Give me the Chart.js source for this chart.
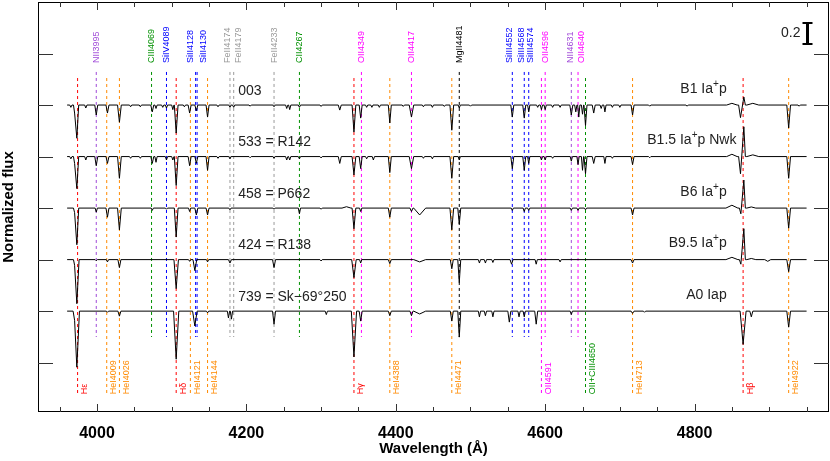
<!DOCTYPE html>
<html>
<head>
<meta charset="utf-8">
<title>LMC supergiant spectra</title>
<script src="https://cdn.jsdelivr.net/npm/chart.js@4.4.1/dist/chart.umd.min.js"></script>
<style>
  html, body { margin: 0; padding: 0; background: #fff; }
  #wrap { width: 830px; height: 461px; }
</style>
</head>
<body>
<div id="wrap"><canvas id="spectra"></canvas></div>
<script>
// ---- data ---------------------------------------------------------------
// star identifiers (left) and spectral types (right), top to bottom
var starNames = ["003", "533 = R142", "458 = P662", "424 = R138", "739 = Sk\u221269\u00b0250"];
var spTypes = ["B1 Ia\u207Ap", "B1.5 Ia\u207Ap Nwk", "B6 Ia\u207Ap", "B9.5 Ia\u207Ap", "A0 Iap"];
// vertical offset applied to each normalised spectrum
var offsets = [0, -0.45, -0.9, -1.35, -1.8];
var waveStart = 3960, waveEnd = 4950;

// absorption features per star: [observed wavelength (A), depth below continuum, half width (A)]
// negative depth = emission / continuum bump
var feat003 = [[3965,0.02,1.5],[3970,0.07,1.5],[3973,0.29,2.5],[3985,0.026,1.5],[3999,0.087,2],[4014,0.07,2],
  [4030,0.15,2.5],[4045,0.015,1.5],[4058,0.015,1.5],[4074,0.06,2],[4079,0.03,1.5],[4088,0.02,1.5],[4093,0.026,1.5],
  [4101.5,0.04,1.5],[4106,0.245,2.5],[4117,0.015,1.5],[4124,0.07,2],[4133,0.05,2],[4148,0.105,2],[4162,0.015,1.5],
  [4178,0.02,1.5],[4183,0.02,1.5],[4205,0.01,1.5],[4237,0.015,1.5],[4254,0.03,1.5],[4258,0.04,1.5],[4271,0.02,1.5],
  [4300,0.012,1.5],[4325,0.044,2],[4344,0.236,2.5],[4353,0.114,2],[4361,0.02,1.5],[4368,0.02,1.5],[4378,0.02,1.5],
  [4392,0.157,2],[4410,0.012,1.5],[4421,0.105,3],[4437,0.015,1.5],[4449,0.02,1.5],[4465,0.012,1.5],[4475,0.22,2.5],
  [4485,0.026,1.5],[4500,0.01,1.5],[4556,0.105,2],[4572,0.114,2],[4578,0.06,1.5],[4590,0.02,1.5],[4595,0.04,1.5],
  [4600,0.04,1.5],[4610,0.02,1.5],[4620,0.02,1.5],[4635,0.087,2],[4641,0.06,1.5],[4645,0.105,1.5],[4650,0.08,1.5],
  [4654,0.18,2],[4665,0.07,2],[4675,0.03,1.5],[4680,0.06,1.5],[4690,0.02,1.5],[4700,0.02,1.5],[4717,0.087,2],
  [4740,0.01,1.5],[4790,0.01,1.5],[4850,-0.015,7],[4861.5,0.11,2.5],[4866,-0.07,2],[4878,-0.015,8],[4926,0.2,2.5],
  [4940,0.01,1.5]];
var feat533 = [[3965,0.02,1.5],[3970,0.06,1.5],[3973,0.28,2.5],[3985,0.03,1.5],[3999,0.08,2],[4014,0.06,2],
  [4030,0.19,2.5],[4045,0.015,1.5],[4058,0.015,1.5],[4074,0.06,2],[4079,0.05,1.5],[4093,0.03,1.5],[4101.5,0.03,1.5],
  [4106,0.253,2.5],[4124,0.08,2],[4133,0.06,2],[4148,0.12,2],[4162,0.015,1.5],[4178,0.02,1.5],[4205,0.01,1.5],
  [4237,0.015,1.5],[4254,0.03,1.5],[4258,0.03,1.5],[4271,0.02,1.5],[4300,0.012,1.5],[4325,0.06,2],[4344,0.16,2.5],
  [4353,0.105,2],[4361,0.02,1.5],[4370,0.03,1.5],[4392,0.14,2],[4421,0.105,3],[4437,0.015,1.5],[4449,0.02,1.5],
  [4475,0.19,2.5],[4485,0.03,1.5],[4556,0.105,2],[4572,0.12,2],[4578,0.06,1.5],[4595,0.03,1.5],[4600,0.03,1.5],
  [4610,0.015,1.5],[4635,0.04,1.5],[4644,0.07,1.5],[4650,0.12,1.5],[4654,0.15,2],[4665,0.06,2],[4680,0.06,1.5],
  [4690,0.015,1.5],[4717,0.07,2],[4740,0.01,1.5],[4850,-0.02,7],[4861.5,0.15,2.5],[4866,-0.26,2],[4878,-0.015,8],
  [4926,0.19,2.5]];
var feat458 = [[3970,0.04,1.5],[3973,0.32,2.5],[3999,0.035,1.5],[4014,0.08,2],[4030,0.19,2.5],[4074,0.02,1.5],
  [4093,0.01,1.5],[4106,0.253,2.5],[4124,0.03,1.5],[4133,0.06,2],[4148,0.06,2],[4178,0.015,1.5],[4237,0.01,1.5],
  [4271,0.05,1.5],[4300,0.01,1.5],[4334,-0.012,6],[4344,0.18,2.5],[4353,0.03,1.5],[4392,0.08,2],[4421,0.03,2],
  [4432,0.06,8],[4475,0.19,2.5],[4485,0.14,2],[4556,0.02,1.5],[4572,0.03,1.5],[4578,0.02,1.5],[4635,0.02,1.5],
  [4644,0.02,1.5],[4654,0.015,1.5],[4717,0.06,2],[4850,-0.025,8],[4862,0.05,2],[4866,-0.245,2],[4876,-0.01,6],
  [4926,0.175,2.5]];
var feat424 = [[3970,0.05,1.5],[3973,0.385,3],[3999,0.01,1.5],[4014,0.02,1.5],[4030,0.07,2],[4106,0.253,3],
  [4124,0.015,1.5],[4131,0.096,2.5],[4148,0.02,1.5],[4178,0.03,2],[4237,0.07,2],[4300,0.012,1.5],[4344,0.157,3],
  [4353,0.03,1.5],[4392,0.035,2],[4432,0.02,8],[4475,0.08,2],[4485,0.2,2],[4512,0.03,1.5],[4520,0.03,1.5],
  [4530,0.025,1.5],[4555,0.04,2],[4588,0.04,1.5],[4620,0.02,1.5],[4717,0.03,2],[4850,-0.02,8],[4862,0.04,2],
  [4866,-0.27,2],[4876,-0.01,6],[4898,0.015,4],[4926,0.105,2.5]];
var feat739 = [[3970,0.08,2],[3973,0.49,3.5],[4014,0.01,1.5],[4030,0.044,2],[4106,0.42,3.5],[4131,0.13,3],
  [4148,0.015,1.5],[4176,0.06,1.5],[4180,0.07,1.5],[4237,0.114,2],[4307,0.03,1.5],[4344,0.40,3.5],[4353,0.087,2],
  [4392,0.04,2],[4421,0.04,2],[4432,0.025,8],[4475,0.087,2],[4485,0.227,2],[4512,0.05,1.5],[4520,0.04,1.5],
  [4530,0.05,1.5],[4552,0.096,2],[4565,0.05,1.5],[4572,0.05,1.5],[4588,0.114,2],[4635,0.03,1.5],[4717,0.02,2],
  [4733,0.01,1.5],[4865,0.29,4],[4876,0.05,2],[4926,0.14,2.5]];
var starFeatures = [feat003, feat533, feat458, feat424, feat739];

// line identifications: labels above the spectra
var topLineNames = ["NII3995", "CIII4069", "SiIV4089", "SiII4128", "SiII4130", "FeII4174", "FeII4179", "FeII4233",
  "CII4267", "OII4349", "OII4417", "MgII4481", "SiIII4552", "SiIII4568", "SiIII4574", "OII4596", "NII4631", "OII4640"];
var topLineWaves = [3999, 4073, 4093, 4132, 4134, 4178, 4183, 4237, 4271, 4354, 4421, 4485, 4556, 4572, 4578,
  4600, 4635, 4644];
// labels below the spectra
var botLineNames = ["H\u03b5", "HeI4009", "HeI4026", "H\u03b4", "HeI4121", "HeI4144", "H\u03b3", "HeI4388",
  "HeI4471", "OII4591", "OII+CIII4650", "HeI4713", "H\u03b2", "HeI4922"];
var botLineWaves = [3974, 4013, 4030, 4106, 4125, 4148, 4344, 4392, 4475, 4595, 4654, 4717, 4865, 4926];

// flux positions of the axis ticks on the left/right frame
var yTickValues = [1.45, 1.0, 0.55, 0.1, -0.35, -0.8, -1.25];
var scaleBarSize = 0.2;

// ---- styling / layout ---------------------------------------------------
var FONT = '"Liberation Sans", Arial, Helvetica, sans-serif';
var Y_MIN = -1.681, Y_MAX = 1.9;
var TOP_MARK = [1.289, -1.026];   // extent of lines labelled on top
var BOT_MARK = [1.236, -1.515];   // extent of lines labelled below
var TOP_LABEL_BASE = 1.367, BOT_LABEL_BASE = -1.527;
var topNudge = { "SiII4128": -5, "SiII4130": 6, "FeII4174": -2, "FeII4179": 5, "SiIII4552": -3,
  "SiIII4568": -3, "SiIII4574": 2, "NII4631": -1, "OII4640": 3 };

function colorFor(name) {
  if (name.indexOf("OII+CIII") === 0 || name.charAt(0) === "C") return "#009000";
  if (name.indexOf("HeI") === 0) return "#ff8a00";
  if (name.charAt(0) === "H") return "#ff0000";
  if (name.indexOf("NII") === 0) return "#a04ad8";
  if (name.indexOf("OII") === 0) return "#ff00ff";
  if (name.indexOf("Si") === 0) return "#0000ff";
  if (name.indexOf("Fe") === 0) return "#9a9a9a";
  return "#000000";
}

// build a polyline for one star: continuum at 1 with V shaped features
function buildSpectrum(features, offset) {
  var pts = [{ x: waveStart, y: 1 + offset }];
  var lastIsShoulder = false;
  features.forEach(function (f) {
    var left = f[0] - f[2], right = f[0] + f[2];
    var last = pts[pts.length - 1];
    if (lastIsShoulder && last.x >= left) {
      pts.pop();
    } else {
      pts.push({ x: left, y: 1 + offset });
    }
    pts.push({ x: f[0], y: 1 - f[1] + offset });
    pts.push({ x: right, y: 1 + offset });
    lastIsShoulder = true;
  });
  pts.push({ x: waveEnd, y: 1 + offset });
  return pts;
}

var datasets = [];
starFeatures.forEach(function (feats, i) {
  datasets.push({
    label: starNames[i],
    data: buildSpectrum(feats, offsets[i]),
    borderColor: "#000",
    borderWidth: 1,
    pointRadius: 0,
    tension: 0,
    fill: false,
    order: 0
  });
});
function markerSet(name, wave, ext) {
  return {
    label: name,
    data: [{ x: wave, y: ext[0] }, { x: wave, y: ext[1] }],
    borderColor: colorFor(name),
    borderWidth: 1,
    borderDash: [3, 3],
    pointRadius: 0,
    fill: false,
    order: 1
  };
}
topLineNames.forEach(function (n, i) { datasets.push(markerSet(n, topLineWaves[i], TOP_MARK)); });
botLineNames.forEach(function (n, i) { datasets.push(markerSet(n, botLineWaves[i], BOT_MARK)); });

// frame with inward ticks on all four sides
var framePlugin = {
  id: "frame",
  afterDatasetsDraw: function (chart) {
    var ctx = chart.ctx, a = chart.chartArea, xs = chart.scales.x, ys = chart.scales.y;
    ctx.save();
    ctx.strokeStyle = "#000";
    ctx.lineWidth = 1;
    ctx.strokeRect(Math.round(a.left) + 0.5, Math.round(a.top) + 0.5,
      Math.round(a.right - a.left) - 1, Math.round(a.bottom - a.top) - 1);
    ctx.strokeStyle = "#333";
    ctx.beginPath();
    xs.ticks.forEach(function (t) {
      var px = Math.round(xs.getPixelForValue(t.value)) + 0.5;
      var len = (t.value % 200 === 0) ? 8 : 5;
      ctx.moveTo(px, a.bottom); ctx.lineTo(px, a.bottom - len);
      ctx.moveTo(px, a.top); ctx.lineTo(px, a.top + len);
    });
    ys.ticks.forEach(function (t) {
      var py = Math.round(ys.getPixelForValue(t.value)) + 0.5;
      ctx.moveTo(a.left, py); ctx.lineTo(a.left + 15, py);
      ctx.moveTo(a.right, py); ctx.lineTo(a.right - 15, py);
    });
    ctx.stroke();
    ctx.restore();
  }
};

function drawSpType(ctx, text, xRight, y) {
  var parts = text.split("\u207A");
  ctx.font = "14px " + FONT;
  var w0 = ctx.measureText(parts[0]).width;
  var w2 = parts.length > 1 ? ctx.measureText(parts[1]).width : 0;
  ctx.font = "10px " + FONT;
  var w1 = parts.length > 1 ? ctx.measureText("+").width : 0;
  var x = xRight - (w0 + w1 + w2);
  ctx.textAlign = "left";
  ctx.font = "14px " + FONT;
  ctx.fillText(parts[0], x, y);
  if (parts.length > 1) {
    ctx.font = "10px " + FONT;
    ctx.fillText("+", x + w0, y - 5);
    ctx.font = "14px " + FONT;
    ctx.fillText(parts[1], x + w0 + w1, y);
  }
}

var textPlugin = {
  id: "annotations",
  afterDatasetsDraw: function (chart) {
    var ctx = chart.ctx, xs = chart.scales.x, ys = chart.scales.y;
    ctx.save();
    ctx.textBaseline = "middle";
    // line identifications
    ctx.font = "9px " + FONT;
    ctx.textAlign = "left";
    topLineNames.forEach(function (n, i) {
      var px = xs.getPixelForValue(topLineWaves[i]) + (topNudge[n] || 0);
      ctx.save();
      ctx.translate(px, ys.getPixelForValue(TOP_LABEL_BASE));
      ctx.rotate(-Math.PI / 2);
      ctx.fillStyle = colorFor(n);
      ctx.fillText(n, 0, 0);
      ctx.restore();
    });
    botLineNames.forEach(function (n, i) {
      var px = xs.getPixelForValue(botLineWaves[i]) + 7;
      ctx.save();
      ctx.translate(px, ys.getPixelForValue(BOT_LABEL_BASE));
      ctx.rotate(-Math.PI / 2);
      ctx.fillStyle = colorFor(n);
      ctx.fillText(n, 0, 0);
      ctx.restore();
    });
    // star names and spectral types
    ctx.fillStyle = "#222";
    starNames.forEach(function (s, i) {
      ctx.font = "14px " + FONT;
      ctx.textAlign = "left";
      ctx.fillText(s, xs.getPixelForValue(4189), ys.getPixelForValue(1.125 + offsets[i]));
      var right = xs.getPixelForValue(i === 1 ? 4856 : 4843);
      drawSpType(ctx, spTypes[i], right, ys.getPixelForValue(1.14 + offsets[i]));
    });
    // vertical scale bar
    var bx = Math.round(xs.getPixelForValue(4950)) + 0.5;
    var b0 = ys.getPixelForValue(1.625 - scaleBarSize / 2), b1 = ys.getPixelForValue(1.625 + scaleBarSize / 2);
    ctx.strokeStyle = "#000";
    ctx.lineWidth = 3;
    ctx.beginPath(); ctx.moveTo(bx, b0); ctx.lineTo(bx, b1); ctx.stroke();
    ctx.lineWidth = 2;
    ctx.beginPath();
    ctx.moveTo(bx - 5, b0 - 1); ctx.lineTo(bx + 5, b0 - 1);
    ctx.moveTo(bx - 5, b1 + 1); ctx.lineTo(bx + 5, b1 + 1);
    ctx.stroke();
    ctx.font = "14px " + FONT;
    ctx.textAlign = "right";
    ctx.fillText(String(scaleBarSize), bx - 7, ys.getPixelForValue(1.625));
    ctx.restore();
  }
};

new Chart(document.getElementById("spectra").getContext("2d"), {
  type: "line",
  data: { datasets: datasets },
  options: {
    responsive: true,
    maintainAspectRatio: false,
    animation: false,
    events: [],
    layout: { padding: { top: 2, right: 1, left: 0, bottom: 0 } },
    plugins: { legend: { display: false }, tooltip: { enabled: false } },
    scales: {
      x: {
        type: "linear",
        min: 3921,
        max: 4980,
        grid: { display: false, drawTicks: false },
        border: { display: false },
        ticks: {
          stepSize: 50,
          autoSkip: false,
          maxRotation: 0,
          includeBounds: false,
          padding: 12,
          color: "#000",
          font: { size: 16, weight: "bold", family: FONT },
          callback: function (v) { return v % 200 === 0 ? String(v) : ""; }
        },
        title: {
          display: true,
          text: "Wavelength (\u00c5)",
          color: "#000",
          font: { size: 15, weight: "bold", family: FONT },
          padding: { top: 0, bottom: 3 }
        },
        afterFit: function (s) { s.height = 49; }
      },
      y: {
        min: Y_MIN,
        max: Y_MAX,
        grid: { display: false, drawTicks: false },
        border: { display: false },
        ticks: { display: false },
        afterBuildTicks: function (s) { s.ticks = yTickValues.map(function (v) { return { value: v }; }); },
        title: {
          display: true,
          text: "Normalized flux",
          color: "#000",
          font: { size: 15, weight: "bold", family: FONT },
          padding: { top: 0, bottom: 0 }
        },
        afterFit: function (s) { s.width = 38; }
      }
    }
  },
  plugins: [framePlugin, textPlugin]
});
</script>
</body>
</html>
